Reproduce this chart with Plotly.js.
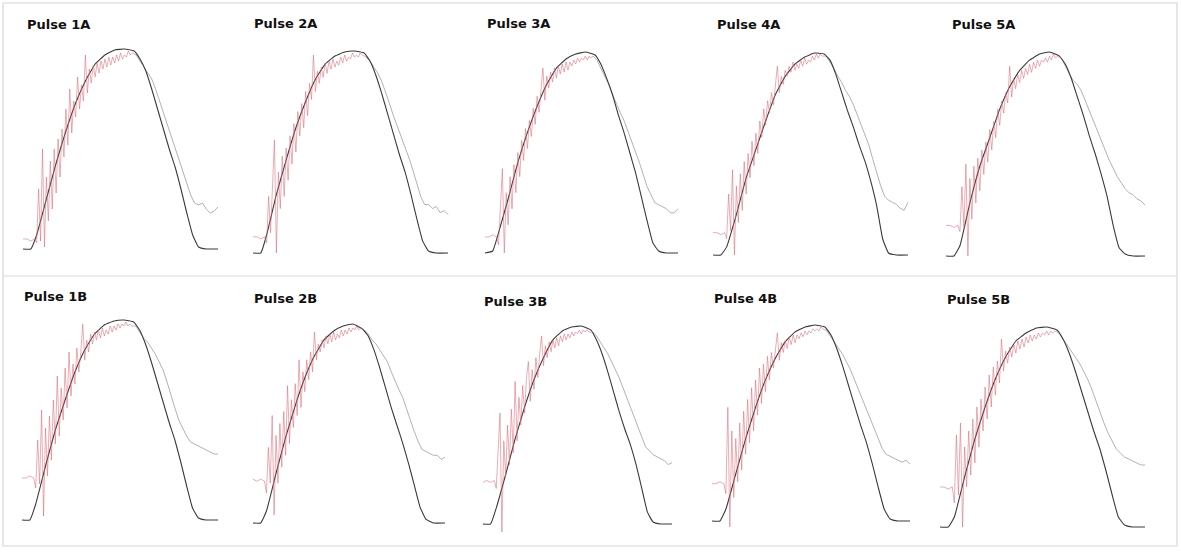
<!DOCTYPE html>
<html>
<head>
<meta charset="utf-8">
<script src="https://cdn.plot.ly/plotly-3.0.1.min.js"></script>
<style>
  html, body { margin: 0; padding: 0; background: #ffffff; }
  #chart { width: 1181px; height: 552px; }
</style>
</head>
<body>
<div id="chart"></div>
<script>
// Sample times (normalised 0-100) of the measured traces and of the fitted pulses
const NOISE_X = [0,2,4,6,
  7,8,9,10,11,12,13,14,15,16,
  17,18,19,20,21,22,23,24,25,26,
  27,28,29,30,31,32,33,34,35,36,
  37,38,39,40,41,42,43,44,45,46,
  47,48,49,50,51,52,53,54,55,56,
  58,60,62,64,66,68,70,72,74,76,78,80,82,84,86,88,90,92,94,96,98,100];
const FIT_X = [0,4,7,12,17,22,27,32,37,42,47,52,57,60,63,66,69,72,75,78,81,84,87,90,94,100];

const PANEL_LABELS = ['Pulse 1A','Pulse 2A','Pulse 3A','Pulse 4A','Pulse 5A',
                      'Pulse 1B','Pulse 2B','Pulse 3B','Pulse 4B','Pulse 5B'];

// Fitted pulse shapes (normalised amplitude)
const FIT_1A = [0,0,0.07,0.25,0.43,0.59,0.73,0.84,0.925,0.97,0.995,1.0,0.99,0.95,0.89,0.80,0.70,0.60,0.50,0.41,0.30,0.18,0.07,0.01,0,0];
const FIT_2A = [0,0,0.09,0.29,0.46,0.62,0.75,0.86,0.935,0.975,0.995,1.0,0.99,0.95,0.88,0.79,0.69,0.59,0.49,0.40,0.29,0.17,0.06,0.01,0,0];
const FIT_3A = [0,0.01,0.10,0.27,0.45,0.60,0.73,0.84,0.92,0.965,0.99,1.0,0.985,0.94,0.87,0.79,0.69,0.60,0.50,0.40,0.28,0.16,0.05,0.01,0,0];
const FIT_4A = [0,0,0.04,0.20,0.38,0.52,0.66,0.79,0.88,0.94,0.975,0.995,0.99,0.96,0.89,0.80,0.71,0.63,0.54,0.46,0.36,0.24,0.08,0.01,0,0];
const FIT_5A = [0,0,0.05,0.26,0.44,0.58,0.72,0.83,0.91,0.96,0.99,1.0,0.98,0.94,0.87,0.78,0.69,0.59,0.50,0.40,0.29,0.15,0.04,0.01,0,0];
const FIT_1B = [0,0,0.08,0.27,0.45,0.60,0.74,0.85,0.93,0.975,0.995,1.0,0.99,0.95,0.88,0.79,0.69,0.59,0.49,0.40,0.29,0.17,0.06,0.01,0,0];
const FIT_2B = [0,0,0.06,0.25,0.43,0.59,0.73,0.84,0.92,0.965,0.99,1.0,0.975,0.94,0.87,0.78,0.68,0.58,0.49,0.40,0.30,0.19,0.08,0.02,0,0];
const FIT_3B = [0,0,0.08,0.25,0.43,0.59,0.73,0.84,0.93,0.975,0.995,1.0,0.98,0.93,0.86,0.77,0.67,0.57,0.48,0.40,0.30,0.18,0.06,0.01,0,0];
const FIT_4B = [0,0,0.06,0.24,0.42,0.58,0.72,0.83,0.915,0.965,0.99,1.0,0.99,0.95,0.88,0.79,0.69,0.59,0.49,0.40,0.29,0.17,0.06,0.01,0,0];
const FIT_5B = [0,0,0.05,0.25,0.44,0.60,0.74,0.85,0.93,0.97,0.995,1.0,0.985,0.94,0.87,0.78,0.68,0.58,0.48,0.39,0.28,0.16,0.05,0.01,0,0];

// Measured traces (normalised amplitude), same sample times as NOISE_X
const TRACE_1A = [0.05,0.05,0.04,0.05,
  0.03,0.30,0.04,0.50,0.01,0.36,0.14,0.44,0.20,0.50,
  0.28,0.55,0.36,0.60,0.46,0.70,0.52,0.80,0.58,0.74,
  0.66,0.86,0.70,0.82,0.74,0.97,0.78,0.90,0.83,0.92,
  0.86,0.93,0.88,0.94,0.90,0.95,0.91,0.96,0.92,0.96,
  0.93,0.97,0.94,0.98,0.95,0.97,0.96,0.99,0.97,0.98,
  0.97,0.94,0.91,0.88,0.85,0.80,0.74,0.69,0.63,0.57,0.50,0.45,0.38,0.32,0.27,0.23,0.22,0.23,0.20,0.18,0.19,0.21];
const TRACE_2A = [0.08,0.08,0.07,0.08,
  0.05,0.28,0.10,0.34,0.56,0.00,0.40,0.22,0.48,0.28,
  0.52,0.36,0.58,0.44,0.64,0.50,0.70,0.58,0.74,0.62,
  0.80,0.68,0.84,0.76,0.98,0.80,0.90,0.84,0.92,0.87,
  0.94,0.89,0.95,0.91,0.96,0.92,0.95,0.93,0.97,0.94,
  0.98,0.95,0.97,0.96,0.99,0.97,0.98,0.97,0.99,0.98,
  0.97,0.95,0.92,0.89,0.85,0.80,0.74,0.68,0.63,0.58,0.52,0.47,0.41,0.34,0.28,0.24,0.24,0.22,0.23,0.20,0.21,0.19];
const TRACE_3A = [0.08,0.08,0.09,0.08,
  0.04,0.26,0.42,0.00,0.30,0.14,0.38,0.22,0.44,0.30,
  0.50,0.38,0.56,0.46,0.62,0.52,0.66,0.58,0.72,0.64,
  0.78,0.70,0.82,0.92,0.76,0.88,0.82,0.90,0.85,0.92,
  0.87,0.93,0.89,0.94,0.90,0.95,0.91,0.95,0.93,0.96,
  0.94,0.97,0.95,0.97,0.96,0.98,0.96,0.98,0.97,0.98,
  0.96,0.92,0.88,0.84,0.79,0.74,0.70,0.66,0.61,0.56,0.50,0.45,0.39,0.33,0.29,0.25,0.24,0.23,0.22,0.20,0.20,0.22];
const TRACE_4A = [0.11,0.11,0.10,0.11,
  0.08,0.30,0.12,0.42,0.00,0.34,0.16,0.40,0.22,0.46,
  0.30,0.50,0.38,0.56,0.44,0.60,0.50,0.66,0.58,0.72,
  0.64,0.76,0.70,0.80,0.74,0.84,0.93,0.80,0.88,0.84,
  0.91,0.88,0.93,0.90,0.95,0.91,0.94,0.92,0.96,0.93,
  0.97,0.94,0.96,0.95,0.98,0.96,0.99,0.97,0.99,0.98,
  0.98,0.95,0.92,0.88,0.85,0.81,0.78,0.74,0.69,0.64,0.59,0.54,0.47,0.40,0.34,0.29,0.27,0.26,0.25,0.23,0.22,0.26];
const TRACE_5A = [0.15,0.15,0.14,0.15,
  0.12,0.34,0.14,0.45,0.00,0.38,0.18,0.44,0.26,0.48,
  0.32,0.52,0.40,0.56,0.46,0.62,0.52,0.66,0.58,0.72,
  0.64,0.76,0.70,0.80,0.75,0.93,0.78,0.87,0.82,0.89,
  0.85,0.91,0.87,0.92,0.89,0.94,0.90,0.95,0.92,0.96,
  0.93,0.96,0.95,0.97,0.95,0.98,0.96,0.99,0.97,0.98,
  0.97,0.93,0.89,0.86,0.84,0.81,0.76,0.71,0.66,0.61,0.56,0.51,0.47,0.43,0.39,0.36,0.33,0.31,0.30,0.28,0.27,0.25];
const TRACE_1B = [0.21,0.21,0.22,0.21,
  0.16,0.40,0.18,0.55,0.02,0.46,0.22,0.52,0.30,0.60,
  0.38,0.72,0.42,0.66,0.50,0.76,0.56,0.84,0.62,0.78,
  0.68,0.86,0.74,0.84,0.98,0.80,0.90,0.84,0.93,0.88,
  0.94,0.90,0.95,0.91,0.96,0.92,0.95,0.93,0.97,0.94,
  0.97,0.95,0.98,0.96,0.98,0.97,0.99,0.97,0.98,0.97,
  0.97,0.94,0.91,0.89,0.86,0.83,0.79,0.75,0.69,0.62,0.56,0.50,0.46,0.42,0.39,0.38,0.37,0.36,0.35,0.34,0.33,0.33];
const TRACE_2B = [0.22,0.21,0.22,0.21,
  0.15,0.38,0.20,0.54,0.04,0.44,0.20,0.50,0.28,0.56,
  0.34,0.69,0.40,0.62,0.48,0.70,0.54,0.82,0.58,0.76,
  0.66,0.82,0.72,0.86,0.76,0.96,0.82,0.90,0.86,0.92,
  0.88,0.94,0.90,0.95,0.91,0.96,0.92,0.95,0.93,0.97,
  0.94,0.97,0.95,0.98,0.96,0.98,0.97,0.99,0.97,0.98,
  0.97,0.95,0.92,0.90,0.87,0.84,0.81,0.76,0.71,0.67,0.63,0.57,0.52,0.46,0.41,0.37,0.36,0.35,0.34,0.34,0.32,0.33];
const TRACE_3B = [0.21,0.22,0.21,0.22,
  0.18,0.40,0.56,-0.04,0.42,0.24,0.50,0.30,0.58,0.36,
  0.72,0.42,0.64,0.50,0.70,0.56,0.74,0.82,0.62,0.78,
  0.68,0.84,0.74,0.86,0.95,0.80,0.90,0.84,0.92,0.87,
  0.93,0.89,0.94,0.90,0.95,0.92,0.96,0.93,0.96,0.94,
  0.97,0.95,0.97,0.96,0.98,0.96,0.98,0.97,0.98,0.97,
  0.97,0.95,0.92,0.89,0.86,0.82,0.78,0.74,0.69,0.64,0.58,0.53,0.48,0.43,0.39,0.37,0.35,0.34,0.33,0.32,0.30,0.31];
const TRACE_4B = [0.19,0.19,0.20,0.19,
  0.14,0.58,-0.03,0.46,0.12,0.42,0.20,0.50,0.26,0.56,
  0.34,0.62,0.40,0.68,0.46,0.72,0.54,0.78,0.60,0.80,
  0.66,0.84,0.72,0.86,0.78,0.88,0.96,0.82,0.91,0.86,
  0.92,0.88,0.94,0.90,0.95,0.91,0.95,0.93,0.96,0.94,
  0.97,0.95,0.97,0.96,0.98,0.97,0.98,0.97,0.99,0.98,
  0.97,0.94,0.91,0.88,0.85,0.81,0.77,0.72,0.67,0.62,0.56,0.51,0.46,0.41,0.37,0.34,0.33,0.32,0.31,0.30,0.31,0.29];
const TRACE_5B = [0.20,0.20,0.19,0.20,
  0.12,0.46,0.16,0.52,0.00,0.40,0.20,0.48,0.26,0.54,
  0.32,0.60,0.40,0.64,0.48,0.70,0.54,0.76,0.60,0.80,
  0.66,0.83,0.72,0.94,0.78,0.88,0.82,0.90,0.85,0.91,
  0.87,0.93,0.89,0.94,0.90,0.95,0.92,0.96,0.93,0.96,
  0.94,0.97,0.95,0.97,0.96,0.98,0.96,0.98,0.97,0.98,
  0.97,0.94,0.91,0.88,0.85,0.82,0.78,0.74,0.69,0.63,0.57,0.52,0.47,0.43,0.39,0.37,0.35,0.34,0.33,0.32,0.31,0.31];

const FITS = [FIT_1A, FIT_2A, FIT_3A, FIT_4A, FIT_5A, FIT_1B, FIT_2B, FIT_3B, FIT_4B, FIT_5B];
const TRACES = [TRACE_1A, TRACE_2A, TRACE_3A, TRACE_4A, TRACE_5A, TRACE_1B, TRACE_2B, TRACE_3B, TRACE_4B, TRACE_5B];

// Page geometry (pixels): where t=0 / t=100 and amplitude 0 / 1 fall in each panel
const W = 1181, H = 552;
const BOXES = [
  {px: [23, 218],  py: [249, 49],  lab: [25, 25]},
  {px: [253, 448], py: [253, 51],  lab: [252, 24]},
  {px: [485, 678], py: [253, 52],  lab: [485, 24]},
  {px: [713, 908], py: [255, 52],  lab: [715, 25]},
  {px: [946, 1145], py: [256, 52], lab: [950, 25]},
  {px: [22, 218],  py: [520, 320], lab: [22, 296]},
  {px: [253, 445], py: [523, 324], lab: [252, 298]},
  {px: [483, 672], py: [524, 326], lab: [482, 301]},
  {px: [712, 910], py: [521, 325], lab: [712, 298]},
  {px: [940, 1145], py: [527, 327], lab: [945, 299]}
];
const XR = [-4, 104], YR = [-0.1, 1.1];
const SPLIT_T = 58;   // where the rising (red) part of a trace hands over to the tail

const data = [];
const layout = {
  width: W, height: H,
  margin: {l: 0, r: 0, t: 0, b: 0},
  paper_bgcolor: '#ffffff',
  plot_bgcolor: 'rgba(0,0,0,0)',
  showlegend: false,
  annotations: [],
  shapes: [
    {type: 'rect', xref: 'paper', yref: 'paper', x0: 3 / W, x1: 1177 / W, y0: 1 - 546 / H, y1: 1 - 3 / H,
     line: {color: '#d6d6d6', width: 1.2}},
    {type: 'line', xref: 'paper', yref: 'paper', x0: 3 / W, x1: 1177 / W, y0: 1 - 276 / H, y1: 1 - 276 / H,
     line: {color: '#d9d9d9', width: 1.2}}
  ]
};

BOXES.forEach((b, i) => {
  const n = i + 1;
  const xa = 'x' + n, ya = 'y' + n;
  const w = b.px[1] - b.px[0], h = b.py[0] - b.py[1];
  const left = b.px[0] + XR[0] / 100 * w, right = b.px[0] + XR[1] / 100 * w;
  const bottom = b.py[0] - YR[0] * h, top = b.py[0] - YR[1] * h;
  const axStyle = {showgrid: false, zeroline: false, showticklabels: false, showline: false, ticks: '', fixedrange: true};
  layout['xaxis' + (n === 1 ? '' : n)] = Object.assign({range: XR, domain: [left / W, right / W], anchor: ya}, axStyle);
  layout['yaxis' + (n === 1 ? '' : n)] = Object.assign({range: YR, domain: [1 - bottom / H, 1 - top / H], anchor: xa}, axStyle);

  const tr = TRACES[i];
  const riseX = [], riseY = [], tailX = [], tailY = [];
  NOISE_X.forEach((t, k) => {
    if (t <= SPLIT_T) { riseX.push(t); riseY.push(tr[k]); }
    if (t >= SPLIT_T) { tailX.push(t); tailY.push(tr[k]); }
  });

  // measured tail (falling side), light grey
  data.push({x: tailX, y: tailY, xaxis: xa, yaxis: ya, type: 'scatter', mode: 'lines',
             line: {color: 'rgba(165,155,157,0.8)', width: 1}, hoverinfo: 'skip'});
  // fitted pulse, dark
  data.push({x: FIT_X, y: FITS[i], xaxis: xa, yaxis: ya, type: 'scatter', mode: 'lines',
             line: {color: '#3a3a3a', width: 1.1, shape: 'spline', smoothing: 0.35}, hoverinfo: 'skip'});
  // measured rising part, red
  data.push({x: riseX, y: riseY, xaxis: xa, yaxis: ya, type: 'scatter', mode: 'lines',
             line: {color: 'rgba(221,105,118,0.62)', width: 0.9}, hoverinfo: 'skip'});

  layout.annotations.push({
    text: '<b>' + PANEL_LABELS[i] + '</b>', xref: 'paper', yref: 'paper',
    x: b.lab[0] / W, y: 1 - b.lab[1] / H, xanchor: 'left', yanchor: 'middle', showarrow: false,
    font: {family: 'DejaVu Sans, sans-serif', size: 13, color: '#111111'}
  });
});

Plotly.newPlot('chart', data, layout, {staticPlot: true, displayModeBar: false});
</script>
</body>
</html>
